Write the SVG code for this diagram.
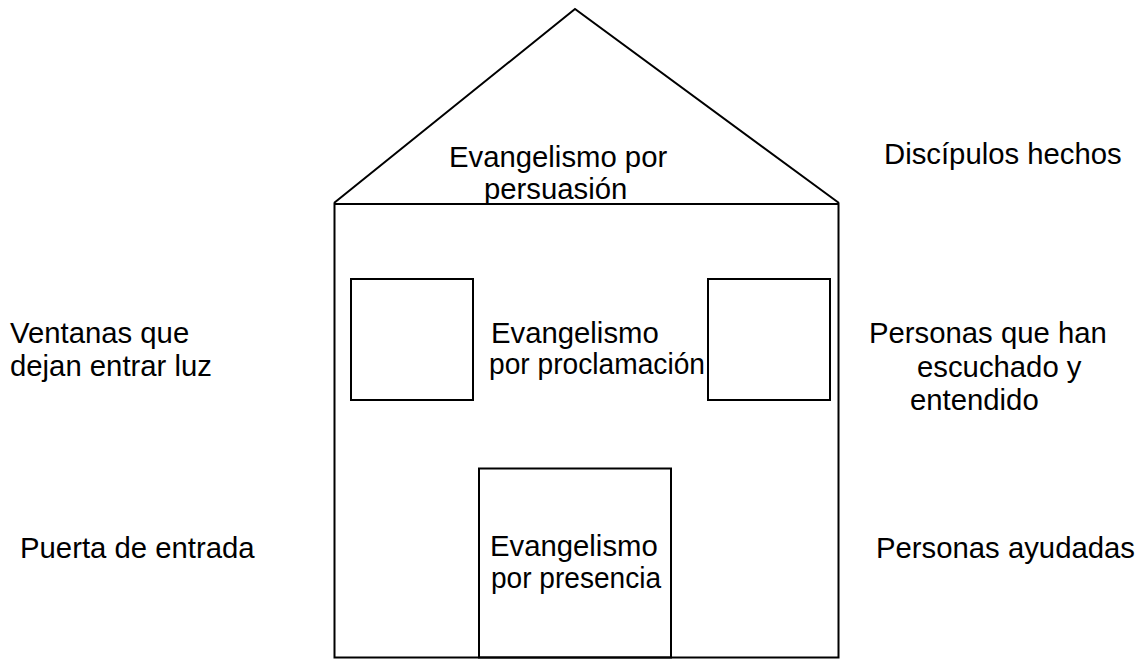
<svg xmlns="http://www.w3.org/2000/svg" width="1145" height="660" viewBox="0 0 1145 660">
<style>
.s{fill:none;stroke:#000;stroke-width:2}
.t{font-family:"Liberation Sans",Arial,sans-serif;font-size:29.3px;fill:#000}
</style>
<rect width="1145" height="660" fill="#fff"/>
<g id="roof">
<polyline class="s" points="334,203 575,9 839,203" stroke-width="1.6"/>
<text class="t" x="449" y="167">Evangelismo por</text>
<text class="t" x="484" y="199">persuasión</text>
</g>
<g id="body">
<rect class="s" x="334.5" y="204" width="504" height="453.5"/>
</g>
<g id="window-left">
<rect class="s" x="351" y="279" width="122" height="121"/>
</g>
<g id="window-right">
<rect class="s" x="708" y="279" width="122" height="121"/>
</g>
<g id="middle">
<text class="t" x="491" y="343">Evangelismo</text>
<text class="t" x="489" y="374" textLength="216" lengthAdjust="spacingAndGlyphs">por proclamación</text>
</g>
<g id="door">
<rect class="s" x="479" y="468.5" width="192" height="189"/>
<text class="t" x="490" y="556">Evangelismo</text>
<text class="t" x="491" y="588" textLength="170" lengthAdjust="spacingAndGlyphs">por presencia</text>
</g>
<g id="labels-left">
<text class="t" x="10" y="343">Ventanas que</text>
<text class="t" x="10" y="376">dejan entrar luz</text>
<text class="t" x="20" y="558">Puerta de entrada</text>
</g>
<g id="labels-right">
<text class="t" x="884" y="164">Discípulos hechos</text>
<text class="t" x="869" y="343">Personas que han</text>
<text class="t" x="917" y="377">escuchado y</text>
<text class="t" x="910" y="410">entendido</text>
<text class="t" x="876" y="558">Personas ayudadas</text>
</g>
<g id="connectors"></g>
</svg>
